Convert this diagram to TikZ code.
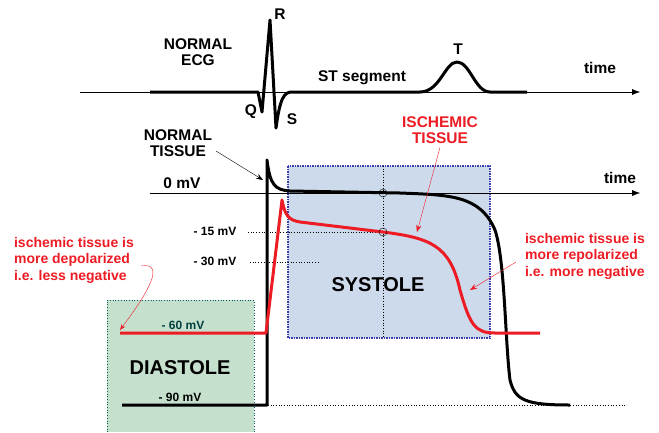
\documentclass[tikz,border=0pt]{standalone}
\usepackage{fontspec}
\setmainfont{Liberation Sans}
\usetikzlibrary{arrows.meta}
\begin{document}
\begin{tikzpicture}[x=1pt,y=-1pt,font=\bfseries\fontsize{15.5}{15.5}\selectfont]
    \definecolor{ecg_blue}{RGB}{205,218,236}
    \definecolor{ecg_green}{RGB}{198,224,206}
    \definecolor{ecg_red}{RGB}{237,28,36}
    \tikzset{lbl/.style={align=center,inner sep=0pt},
             redlbl/.style={lbl,text=ecg_red},
             trace/.style={line width=3pt,line join=round},
             guide/.style={dotted,line width=0.7pt}}
    \useasboundingbox (0,0) rectangle (659,432);
    % boxes
    \fill[ecg_green] (107,300) rectangle (254,432);
    \draw[guide,draw=teal!70!black] (107,432) -- (107,300) -- (254,300) -- (254,432);
    \draw[ecg_blue!40!blue!70!black,densely dotted,line width=1.5pt,fill=ecg_blue] (288,166) rectangle (490,338);
    \node[lbl,font=\bfseries\fontsize{20}{21}\selectfont] (sys) at (378,285) {SYSTOLE};
    \node[lbl,font=\bfseries\fontsize{20}{21}\selectfont] (dia) at (180,368) {DIASTOLE};
    % ECG
    \coordinate (ecgstart) at (80,92);
    \coordinate (ecgend) at (640,92);
    \draw[-{Latex[length=8pt]}] (ecgstart) -- (ecgend);
    \draw[trace] (150,92) -- (258,92) -- (262,112) -- (270,20) -- (276,128)
        .. controls (280,98) and (284,92) .. (292,92) -- (420,92)
        .. controls (440,92) and (445,62) .. (457,62) .. controls (470,62) and (475,92) .. (490,92) -- (527,92);
    \node[lbl] (ecgname) at (198,52) {NORMAL\\ECG};
    \node[lbl] (r) at (280,14) {R};
    \node[lbl] (q) at (251,112) {Q};
    \node[lbl] (s) at (292,119) {S};
    \node[lbl] (st) at (362,78) {ST segment};
    \node[lbl] (t) at (458,49) {T};
    \node[lbl] (time1) at (600,68) {time};
    % action potentials
    \coordinate (zstart) at (150,193);
    \coordinate (zend) at (640,193);
    \draw[-{Latex[length=8pt]}] (zstart) -- (zend);
    \node[lbl] (time2) at (620,178) {time};
    \node[lbl] (zero) at (182,183) {0 mV};
    \draw[guide] (383,166) -- (383,338);
    \draw[guide] (122,405) -- (625,405);
    \draw[guide] (248,232) -- (383,232);
    \draw[guide] (250,262) -- (318,262);
    \node[lbl,font=\bfseries\fontsize{12}{13}\selectfont] (m15) at (215,231) {- 15 mV};
    \node[lbl,font=\bfseries\fontsize{12}{13}\selectfont] (m30) at (215,261) {- 30 mV};
    \node[lbl,font=\bfseries\fontsize{12}{13}\selectfont,text=teal!50!black] (m60) at (183,325) {- 60 mV};
    \node[lbl,font=\bfseries\fontsize{12}{13}\selectfont] (m90) at (180,397) {- 90 mV};
    \draw[trace] (122,405) -- (267,405) -- (267,160) .. controls (270,185) and (275,190) .. (290,191)
        -- (400,193) .. controls (450,195) and (480,195) .. (495,230)
        .. controls (505,260) and (505,340) .. (510,380) .. controls (515,400) and (525,405) .. (570,405);
    \draw[trace,ecg_red] (120,333) -- (266,333) -- (282,200) .. controls (285,215) and (288,220) .. (300,222)
        -- (383,232) .. controls (430,238) and (450,245) .. (460,290)
        .. controls (470,325) and (475,333) .. (495,333) -- (540,333);
    \draw (383,193) circle (4) (383,232) circle (4);
    % labels with arrows
    \node[lbl] (normal) at (178,143) {NORMAL\\TISSUE};
    \draw[-{Stealth[length=7pt]}] (216,151) -- (263,180);
    \node[redlbl] (isch) at (440,130) {ISCHEMIC\\TISSUE};
    \draw[ecg_red,-{Stealth[length=7pt]}] (isch.south) ++(0,4) -- (417,232);
    \node[redlbl,font=\fontsize{14}{16.5}\selectfont\bfseries,align=left] (depol) at (74,260) {ischemic tissue is\\more depolarized\\i.e. less negative};
    \draw[ecg_red,-{Stealth[length=6pt]}] (141,266) .. controls (165,262) and (150,290) .. (120,330);
    \node[redlbl,font=\fontsize{14}{16.5}\selectfont\bfseries,align=left] (repol) at (585,256) {ischemic tissue is\\more repolarized\\i.e. more negative};
    \draw[ecg_red,-{Stealth[length=7pt]}] (516,262) -- (470,290);
\end{tikzpicture}
\end{document}
